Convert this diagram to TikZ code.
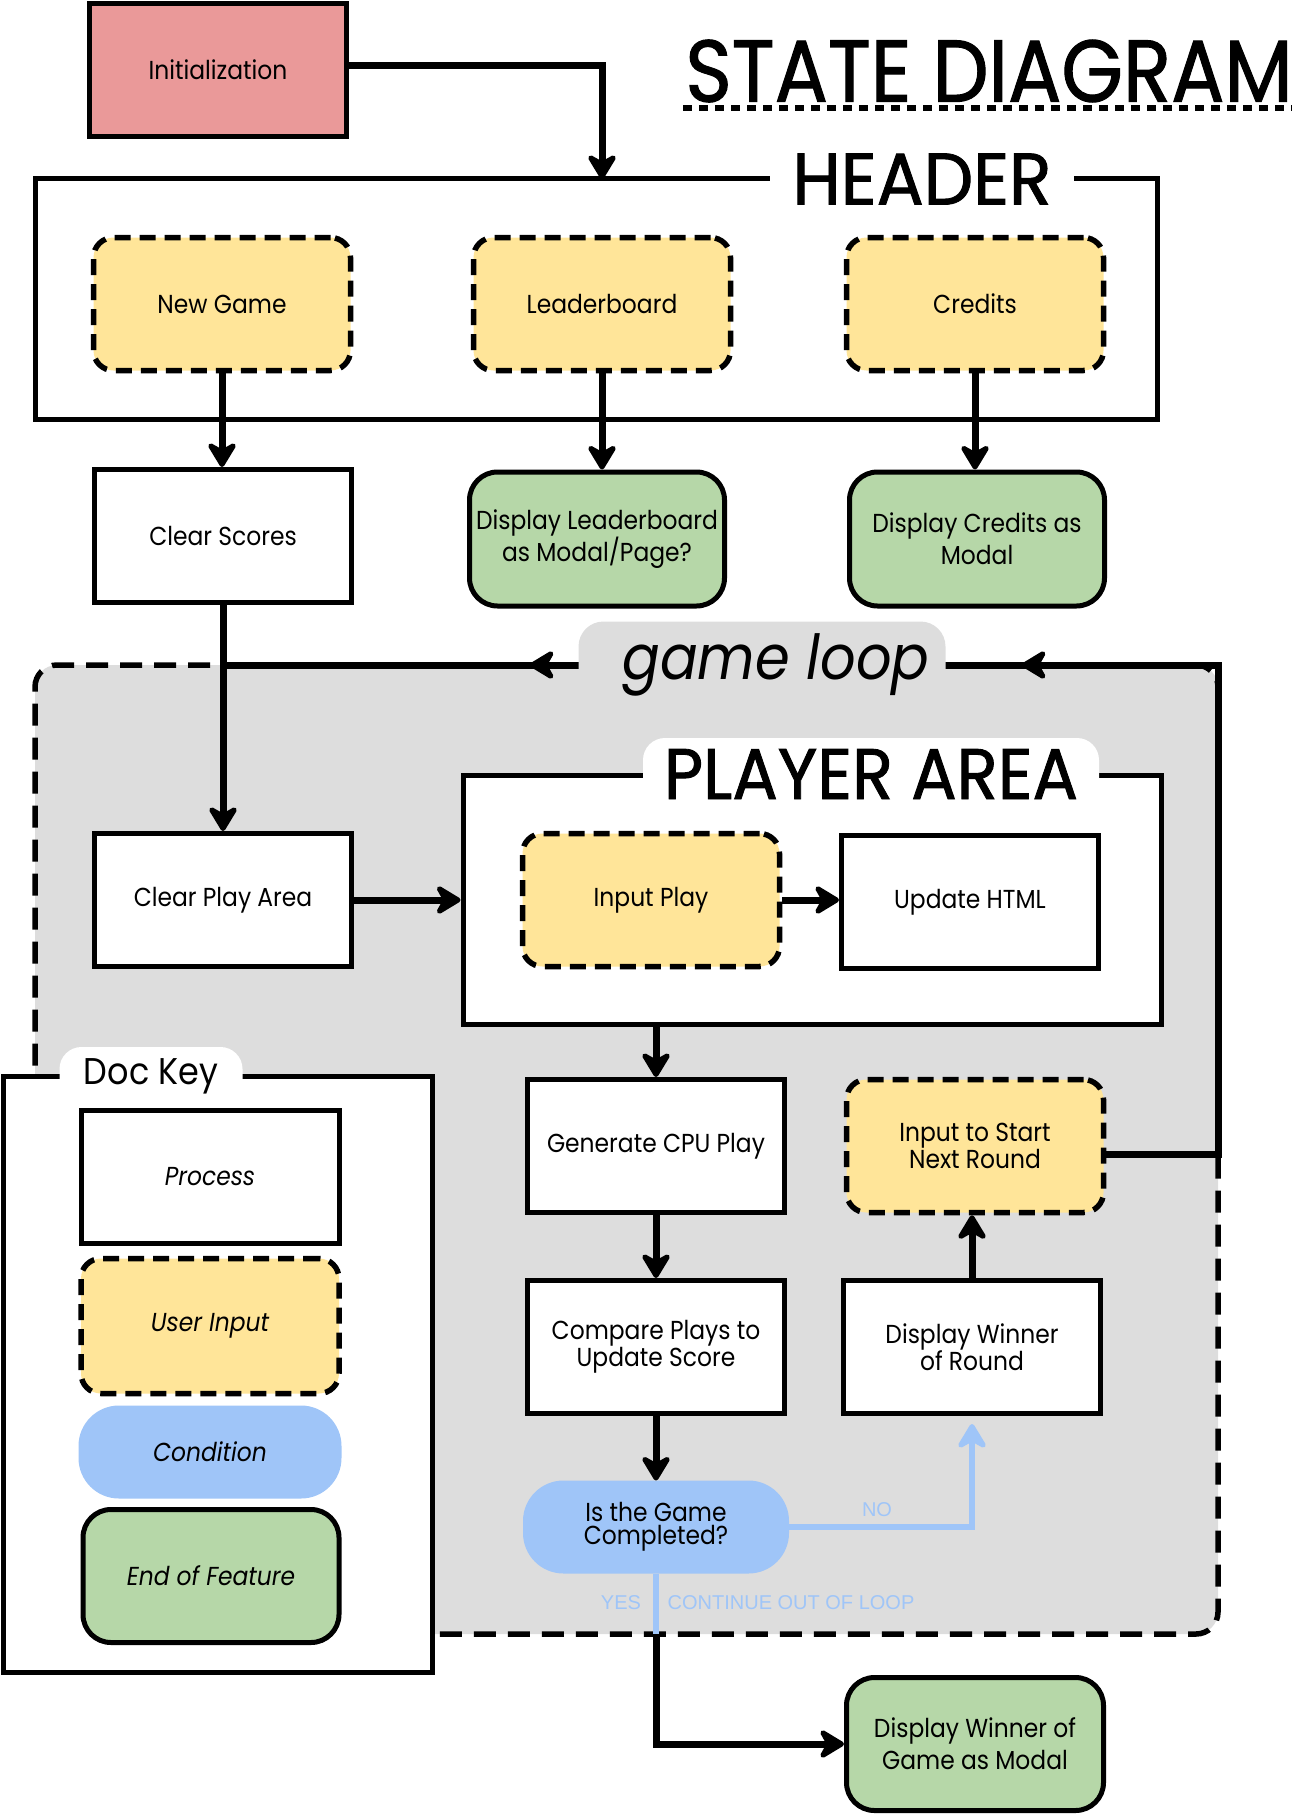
\documentclass[tikz,border=0pt]{standalone}
\usepackage{fontspec}
\setmainfont{Poppins}[FakeStretch=0.9]
\newfontfamily\bigfont{Poppins}[FakeStretch=0.9, FakeBold=1.2]
\newfontfamily\arialfont{Liberation Sans}
\usetikzlibrary{arrows.meta,decorations.markings}
\definecolor{initpink}{HTML}{EA9999}
\definecolor{inyellow}{HTML}{FFE599}
\definecolor{endgreen}{HTML}{B6D7A8}
\definecolor{condblue}{HTML}{9FC5F8}
\definecolor{loopgray}{HTML}{DDDDDD}
\begin{document}
\begin{tikzpicture}[x=1pt,y=-1pt,
  base/.style={line width=5pt, minimum width=257pt, minimum height=133pt, align=center, inner sep=0pt, font=\fontsize{26}{32}\selectfont},
  tight/.style={font=\fontsize{26}{27}\selectfont},
  vtight/.style={font=\fontsize{26}{23}\selectfont},
  procbox/.style={base, draw, fill=white},
  inputbox/.style={base, draw, fill=inyellow, rounded corners=20pt, line width=5.5pt, dash pattern=on 16pt off 9pt},
  endbox/.style={base, draw, fill=endgreen, rounded corners=28pt},
  condbox/.style={base, draw=condblue, fill=condblue, rounded corners=38pt, minimum height=88pt},
  tipstyle/.style={-{Stealth[length=30pt,width=36pt,inset=10pt,round]}},
  conn/.style={line width=7pt, tipstyle},
  bluelbl/.style={text=condblue, font=\arialfont\fontsize{20}{20}\selectfont, inner sep=0pt},
]
\useasboundingbox (0,0) rectangle (1304,1814);

% containers
\node[draw, fill=loopgray, line width=5.5pt, dash pattern=on 22pt off 12pt, rounded corners=22pt, minimum width=1183pt, minimum height=969pt, inner sep=0pt] (loop) at (626.5,1149.5) {};
\node[draw, line width=5pt, minimum width=1122pt, minimum height=240pt, inner sep=0pt] (hdr) at (596,299) {};
\node[draw, fill=white, line width=5pt, minimum width=698pt, minimum height=249pt, inner sep=0pt] (parea) at (812,899.5) {};

% title
\node[inner sep=0pt] (title) at (989,71) {\resizebox{607pt}{62pt}{\bigfont STATE DIAGRAM}};
\draw[line width=6pt, dash pattern=on 9pt off 7pt] (683,108) -- (1292,108);

% process nodes
\node[procbox, fill=initpink] (init) at (218,70) {Initialization};
\node[inputbox] (newgame) at (222,304) {New Game};
\node[inputbox] (leader) at (602,304) {Leaderboard};
\node[inputbox] (credits) at (975,304) {Credits};
\node[procbox] (clearscores) at (223,536) {Clear Scores};
\node[endbox, minimum width=255pt, minimum height=134pt] (displb) at (597,539) {Display Leaderboard\\as Modal/Page?};
\node[endbox, minimum width=255pt, minimum height=134pt] (dispcred) at (977,539) {Display Credits as\\Modal};
\node[procbox] (clearplay) at (223,900) {Clear Play Area};
\node[inputbox] (inputplay) at (651,900) {Input Play};
\node[procbox] (updatehtml) at (970,902) {Update HTML};
\node[procbox] (gencpu) at (656,1146) {Generate CPU Play};
\node[inputbox, tight] (inputstart) at (975,1146) {Input to Start\\Next Round};
\node[procbox, tight] (compare) at (656,1347) {Compare Plays to\\Update Score};
\node[procbox, tight] (dispwinround) at (972,1347) {Display Winner\\of Round};
\node[condbox, vtight, minimum width=261pt] (isgame) at (656,1527) {Is the Game\\Completed?};
\node[endbox] (dispwingame) at (975,1744) {Display Winner of\\Game as Modal};

% connectors
\coordinate (hdrin) at (602,179);
\draw[conn] ([yshift=4pt]init.east) -| (hdrin);
\draw[conn] (newgame.south) -- (newgame.south |- clearscores.north);
\draw[conn] (leader.south) -- (leader.south |- displb.north);
\draw[conn] (credits.south) -- (credits.south |- dispcred.north);
\draw[conn] (clearscores.south) -- (clearplay.north);
\draw[conn] (clearplay.east) -- (clearplay.east -| parea.west);
\draw[conn] (inputplay.east) -- (inputplay.east -| updatehtml.west);
\draw[conn] (gencpu.north |- parea.south) -- (gencpu.north);
\draw[conn] (gencpu.south) -- (compare.north);
\draw[conn] (compare.south) -- (isgame.north);
\draw[conn] (dispwinround.north) -- (dispwinround.north |- inputstart.south);
\draw[line width=6.5pt, condblue, tipstyle, shorten >=8pt] (isgame.east) -| (dispwinround.south);
\coordinate (exitpt) at (656,1634);
\draw[line width=6.5pt, condblue] (isgame.south) -- (exitpt);
\draw[conn] (exitpt) |- (dispwingame.west);
\coordinate (loopcorner) at (1218,665);
\draw[line width=7pt, postaction=decorate, decoration={markings,
    mark=at position 797pt with {\arrow{Stealth[length=30pt,width=36pt,inset=10pt,round]}},
    mark=at position 1289pt with {\arrow{Stealth[length=30pt,width=36pt,inset=10pt,round]}}}]
  ([yshift=-8pt]inputstart.east) -| (loopcorner) -- (clearscores.south |- loopcorner);

% labels on containers
\node[fill=white, inner xsep=22pt, inner ysep=3pt] (hdrlabel) at (922,179) {\resizebox{259pt}{51pt}{\bigfont HEADER}};
\node[fill=loopgray, rounded corners=25pt, minimum width=367pt, minimum height=87pt, inner sep=0pt] (looplabel) at (762,665) {};
\node[inner sep=0pt] (looptext) at (776,665) {\resizebox{307pt}{!}{\itshape game loop}};
\node[fill=white, rounded corners=22pt, minimum width=456pt, minimum height=72pt, inner sep=0pt] (palabel) at (871,774) {\resizebox{414pt}{50pt}{\bigfont PLAYER AREA}};

\node[bluelbl] (nolbl) at (877,1510) {NO};
\node[bluelbl] (yeslbl) at (621,1603) {YES};
\node[bluelbl] (contlbl) at (791,1603) {CONTINUE OUT OF LOOP};

% doc key
\node[draw, fill=white, line width=5pt, minimum width=429pt, minimum height=596pt, inner sep=0pt] (dockey) at (217.5,1374) {};
\node[fill=white, rounded corners=22pt, minimum width=183pt, minimum height=58pt, inner sep=0pt] (dklabel) at (151,1076) {\resizebox{134pt}{!}{Doc Key}};
\node[procbox, minimum width=258pt] (kproc) at (210,1177) {\itshape Process};
\node[inputbox, minimum width=258pt, minimum height=135pt] (kinput) at (210,1326) {\itshape User Input};
\node[condbox, minimum width=258pt] (kcond) at (210,1452) {\itshape Condition};
\node[endbox, minimum width=256pt] (kend) at (211,1576) {\itshape End of Feature};
\end{tikzpicture}
\end{document}
